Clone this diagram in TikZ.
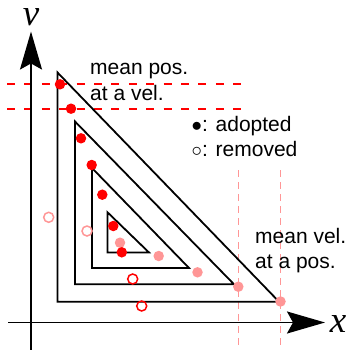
\documentclass[tikz,border=0pt]{standalone}
\usepackage{fontspec}
\setmainfont{Liberation Sans}
\newfontfamily\axisfont{Liberation Serif}
\usetikzlibrary{arrows.meta}
\definecolor{myred}{RGB}{255,0,0}
\definecolor{mypink}{RGB}{255,150,150}
\tikzset{
  axisline/.style={line width=1.8pt,-{Stealth[length=38pt,width=22pt,inset=6pt]}},
  tri/.style={line width=1.8pt,line join=miter},
  reddash/.style={myred,line width=1.8pt,dash pattern=on 8pt off 9.4pt},
  pinkdash/.style={mypink,line width=1.6pt,dash pattern=on 7pt off 5pt},
  adot/.style={circle,fill=myred,inner sep=0pt,minimum size=10.5pt},
  pdot/.style={circle,fill=mypink,inner sep=0pt,minimum size=10.5pt},
  rring/.style={circle,draw=myred,line width=1.5pt,inner sep=0pt,minimum size=10pt},
  pring/.style={circle,draw=mypink,line width=1.5pt,inner sep=0pt,minimum size=10pt},
  lbl/.style={font=\fontsize{21}{25}\selectfont,inner sep=0pt,anchor=base west},
  axlbl/.style={font=\fontsize{37}{37}\selectfont\axisfont\itshape,inner sep=0pt,anchor=base},
}
\begin{document}
\begin{tikzpicture}[x=1pt,y=-1pt]
\useasboundingbox (0,0) rectangle (348,350);
% dashed guide lines
\coordinate (h1a) at (7,84.3);   \coordinate (h1b) at (242,84.3);
\coordinate (h2a) at (7,108.7);  \coordinate (h2b) at (242,108.7);
\coordinate (v1a) at (238.3,170); \coordinate (v1b) at (238.3,350);
\coordinate (v2a) at (280.5,170); \coordinate (v2b) at (280.5,350);
\draw[reddash] (h1a) -- (h1b);
\draw[reddash] (h2a) -- (h2b);
\draw[pinkdash] (v1a) -- (v1b);
\draw[pinkdash] (v2a) -- (v2b);
% triangles
\draw[tri] (57.5,72.5) -- (57.5,301.7) -- (279,301.7) -- cycle;
\draw[tri] (75,121.5) -- (75,284.3) -- (234,284.3) -- cycle;
\draw[tri] (92,168) -- (92,268) -- (189,268) -- cycle;
\draw[tri] (107.5,212.3) -- (107.5,252.5) -- (149,252.5) -- cycle;
% axes
\coordinate (yb) at (31,350); \coordinate (yt) at (31,31.5);
\coordinate (xl) at (8,322.5); \coordinate (xr) at (325,322.5);
\draw[axisline] (yb) -- (yt);
\draw[axisline] (xl) -- (xr);
\node[axlbl] (vl) at (31,25.5) {v};
\node[axlbl] (xlab) at (338,332.5) {x};
% open circles
\node[pring] (o1) at (48.7,217.3) {};
\node[pring] (o2) at (87,231) {};
\node[rring] (o3) at (132.7,279) {};
\node[rring] (o4) at (141.7,306) {};
% pink filled
\node[pdot] (p1) at (120,242.7) {};
\node[pdot] (p2) at (158.7,256) {};
\node[pdot] (p3) at (197.5,272.3) {};
\node[pdot] (p4) at (238.3,286.7) {};
\node[pdot] (p5) at (280.5,301.5) {};
% red filled
\node[adot] (a1) at (60,84.3) {};
\node[adot] (a2) at (71,108.7) {};
\node[adot] (a3) at (81,138.3) {};
\node[adot] (a4) at (91.7,165) {};
\node[adot] (a5) at (102.3,194.7) {};
\node[adot] (a6) at (113.3,226) {};
\node[adot] (a7) at (121.8,252.3) {};
% texts
\node[lbl] (t1) at (90,75) {mean pos.};
\node[lbl] (t2) at (90,100.5) {at a vel.};
\node[lbl] (t3) at (191.5,131.7) {$\bullet$: adopted};
\node[lbl] (t4) at (191.5,156.7) {$\circ$: removed};
\node[lbl] (t5) at (255,243.3) {mean vel.};
\node[lbl] (t6) at (255,268.3) {at a pos.};
\end{tikzpicture}
\end{document}
